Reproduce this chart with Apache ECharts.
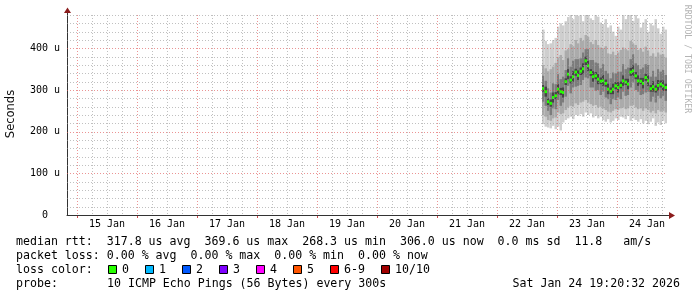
<!DOCTYPE html>
<html><head><meta charset="utf-8">
<script src="https://cdn.jsdelivr.net/npm/echarts@6/dist/echarts.min.js"></script>
<style>html,body{margin:0;padding:0;background:#fff}#c{width:697px;height:297px}</style>
</head><body><div id="c"></div>
<script>
// ---------- data ----------
const HOUR = 3600e3;
const axisStart = Date.UTC(2026, 0, 14, 20, 0);
const axisEnd = Date.UTC(2026, 0, 24, 20, 0);
const firstSample = Date.UTC(2026, 0, 22, 18, 0);   // hourly consolidated samples
const dayLabels = ['15 Jan','16 Jan','17 Jan','18 Jan','19 Jan','20 Jan','21 Jan','22 Jan','23 Jan','24 Jan'];
const yTickValues = [0, 100, 200, 300, 400];
const yMinorValues = [20,40,60,80,120,140,160,180,220,240,260,280,320,340,360,380,420,440,460,480];

// median RTT (microseconds)
const median = [304,296,272,268,282,286,302,296,294,320, 338,324,332,343,335,345,351,370,358,342,
                332,334,326,321,322,316,302,297,302,310, 306,311,322,319,314,343,346,334,322,321,
                316,330,322,303,308,302,311,314,310,306];
// smoke bands (sorted ping levels, microseconds)
const lo1 = [218,212,210,208,214,206,212,203,222,228, 232,236,230,240,238,242,236,246,240,244,
             234,238,232,236,228,224,230,222,226,232, 228,236,234,230,238,226,232,228,224,230,
             220,226,218,224,232,214,222,216,226,220];
const lo2 = [240,236,228,226,232,234,246,242,244,252, 258,262,260,268,264,270,272,276,270,266,
             262,264,258,260,256,252,248,246,250,254, 252,256,258,254,256,262,264,258,254,256,
             250,256,252,246,250,244,252,248,250,246];
const lo3 = [272,262,250,240,256,254,276,262,270,284, 310,292,306,308,310,312,324,330,328,306,
             306,298,300,288,296,282,278,266,278,276, 282,278,296,286,288,306,318,300,296,288,
             290,294,296,272,284,270,286,280,286,274];
const lo4 = [296,284,264,260,270,278,290,288,282,312, 326,316,320,334,324,336,338,360,346,334,
             320,326,314,314,310,308,290,290,290,302, 294,304,310,312,302,334,334,326,310,314,
             304,322,310,296,296,294,298,306,298,298];
const hi4 = [312,308,280,277,294,295,314,305,306,328, 350,333,345,351,347,354,364,380,370,350,
             345,343,338,330,336,325,315,306,315,319, 319,320,335,327,327,353,359,343,335,329,
             329,339,335,312,321,311,324,323,323,315];
const hi3 = [334,322,304,294,316,314,338,326,332,348, 376,356,370,374,374,376,390,398,398,372,
             372,366,364,352,362,346,340,328,342,340, 344,344,362,350,354,374,386,364,360,350,
             354,362,360,332,346,332,350,344,348,336];
const hi2 = [360,352,345,350,356,365,378,384,372,395, 398,410,405,420,412,425,418,432,428,415,
             410,420,408,402,400,405,388,386,392,384, 390,396,402,398,395,418,412,408,396,400,
             392,404,395,382,388,380,390,385,386,378];
const hi1 = [445,418,410,412,420,425,452,460,455,465, 475,480,470,480,478,480,465,480,480,472,
             468,480,476,462,458,470,450,455,440,430, 452,445,480,470,480,480,466,480,472,450,
             462,470,440,460,455,470,448,435,452,445];

const statsLine1 = 'median rtt:  317.8 us avg  369.6 us max  268.3 us min  306.0 us now  0.0 ms sd  11.8   am/s';
const statsLine2 = 'packet loss: 0.00 % avg  0.00 % max  0.00 % min  0.00 % now';
const lossTitle = 'loss color:';
const lossLabels = ['0','1','2','3','4','5','6-9','10/10'];
const lossColors = ['#26ff00','#00b8ff','#0059ff','#7e00ff','#ff00ff','#ff5500','#ff0000','#a10000'];
const probeTitle = 'probe:';
const probeText = '10 ICMP Echo Pings (56 Bytes) every 300s';
const dateText = 'Sat Jan 24 19:20:32 2026';

// ---------- build ----------
const smokeData = median.map((m, i) => [firstSample + i * HOUR, lo1[i], lo2[i], lo3[i], lo4[i], hi4[i], hi3[i], hi2[i], hi1[i], m]);
const midnights = dayLabels.map((_, i) => Date.UTC(2026, 0, 15 + i));
const noons = midnights.map(t => t + 12 * HOUR);
const gridData = [];
for (let t = Date.UTC(2026, 0, 15); t <= axisEnd; t += 6 * HOUR) {
  const major = midnights.includes(t);
  if (t > axisStart && t < axisEnd) gridData.push([t, 0, major ? 1 : 0]);
}
yMinorValues.forEach(v => gridData.push([axisStart, v, 2]));
yTickValues.filter(v => v > 0).forEach(v => gridData.push([axisStart, v, 3]));

const smokeColors = ['#cecece', '#ababab', '#7c7c7c', '#454545'];
const MINOR = 'rgba(150,150,150,0.6)';
const MAJOR = 'rgba(225,90,90,0.65)';
const MONO = '"DejaVu Sans Mono", monospace';

const chart = echarts.init(document.getElementById('c'), null, {renderer: 'canvas'});

const graphics = [];
const txt = (text, x, y, opts = {}) => graphics.push({
  type: 'text', x, y, silent: true,
  style: Object.assign({text, fill: '#000', font: '11.6px ' + MONO, verticalAlign: 'middle', align: 'left'}, opts)
});
txt(statsLine1, 16, 242);
txt(statsLine2, 16, 255.5);
txt(lossTitle, 16, 269.5);
let bx = 108;
lossLabels.forEach((lab, k) => {
  graphics.push({type: 'rect', silent: true, shape: {x: bx + 0.5, y: 265.5, width: 8, height: 8},
    style: {fill: lossColors[k], stroke: '#000', lineWidth: 1}});
  txt(lab, bx + 14, 269.5);
  bx += 30 + 7 * lab.length;
});
txt(probeTitle, 16, 283.5);
txt(probeText, 107, 283.5);
txt(dateText, 680, 283.5, {align: 'right'});
// axis titles / watermark
graphics.push({type: 'text', x: 11, y: 114, rotation: Math.PI / 2, silent: true,
  style: {text: 'Seconds', fill: '#111', font: '11.5px "DejaVu Sans", sans-serif', align: 'center', verticalAlign: 'middle'}});
graphics.push({type: 'text', x: 687.5, y: 59, rotation: -Math.PI / 2, silent: true,
  style: {text: 'RRDTOOL / TOBI OETIKER', fill: '#b4b4b4', font: '8.2px ' + MONO, align: 'center', verticalAlign: 'middle'}});
// axis extensions and arrows
graphics.push({type: 'line', silent: true, shape: {x1: 667, y1: 215.5, x2: 670, y2: 215.5}, style: {stroke: '#333', lineWidth: 1}});
graphics.push({type: 'polygon', silent: true, shape: {points: [[669, 212], [669, 219], [675, 215.5]]}, style: {fill: '#8b1c1c'}});
graphics.push({type: 'line', silent: true, shape: {x1: 67.5, y1: 15, x2: 67.5, y2: 12}, style: {stroke: '#333', lineWidth: 1}});
graphics.push({type: 'polygon', silent: true, shape: {points: [[64, 13], [71, 13], [67.5, 7.5]]}, style: {fill: '#8b1c1c'}});

chart.setOption({
  animation: false,
  backgroundColor: '#ffffff',
  grid: {left: 67, right: 30, top: 15, bottom: 82, containLabel: false},
  xAxis: {
    type: 'value', min: axisStart, max: axisEnd,
    splitLine: {show: false}, axisTick: {show: false},
    axisLine: {show: true, onZero: false, lineStyle: {color: '#333', width: 1}},
    axisLabel: {
      customValues: noons, margin: 4,
      fontFamily: 'DejaVu Sans Mono', fontSize: 10, color: '#000',
      formatter: v => { const i = noons.indexOf(v); return i >= 0 ? dayLabels[i] : ''; }
    }
  },
  yAxis: {
    type: 'value', min: 0, max: 480,
    splitLine: {show: false}, axisTick: {show: false},
    axisLine: {show: true, onZero: false, lineStyle: {color: '#333', width: 1}},
    axisLabel: {
      customValues: yTickValues, margin: 7,
      fontFamily: 'DejaVu Sans Mono', fontSize: 10, color: '#000',
      formatter: v => v === 0 ? '0  ' : v + ' u'
    }
  },
  series: [
    {
      type: 'custom', z: 2, data: smokeData, clip: true,
      encode: {x: 0, y: 9},
      renderItem(params, api) {
        const t = api.value(0);
        const x0 = api.coord([t, 0])[0];
        const x1 = api.coord([t + HOUR, 0])[0];
        const children = [];
        const band = (a, b, color) => {
          const ya = api.coord([t, a])[1], yb = api.coord([t, b])[1];
          children.push({type: 'rect', shape: {x: x0, y: yb, width: x1 - x0, height: ya - yb}, style: {fill: color}});
        };
        band(api.value(1), api.value(8), smokeColors[0]);
        band(api.value(2), api.value(7), smokeColors[1]);
        band(api.value(3), api.value(6), smokeColors[2]);
        band(api.value(4), api.value(5), smokeColors[3]);
        const m = api.value(9);
        band(m - 3.5, m + 3.5, lossColors[0]);
        return {type: 'group', children};
      }
    },
    {
      type: 'custom', z: 3, data: gridData, silent: true,
      encode: {x: 0, y: 1},
      renderItem(params, api) {
        const cs = params.coordSys;
        const kind = api.value(2);
        if (kind < 2) {
          const x = Math.round(api.coord([api.value(0), 0])[0]) + 0.5;
          const ch = [{type: 'line', shape: {x1: x, y1: cs.y, x2: x, y2: cs.y + cs.height},
            style: {stroke: kind === 1 ? MAJOR : MINOR, lineWidth: 1, lineDash: [1, 2]}}];
          if (kind === 1) ch.push({type: 'line', shape: {x1: x, y1: cs.y + cs.height + 1, x2: x, y2: cs.y + cs.height + 3},
            style: {stroke: 'rgba(200,60,60,0.9)', lineWidth: 1}});
          return {type: 'group', children: ch};
        }
        const y = Math.round(api.coord([api.value(0), api.value(1)])[1]) + 0.5;
        return {type: 'line', shape: {x1: cs.x, y1: y, x2: cs.x + cs.width, y2: y},
          style: {stroke: kind === 3 ? MAJOR : MINOR, lineWidth: 1, lineDash: [1, 2]}};
      }
    }
  ],
  graphic: graphics
});
</script>
</body></html>
